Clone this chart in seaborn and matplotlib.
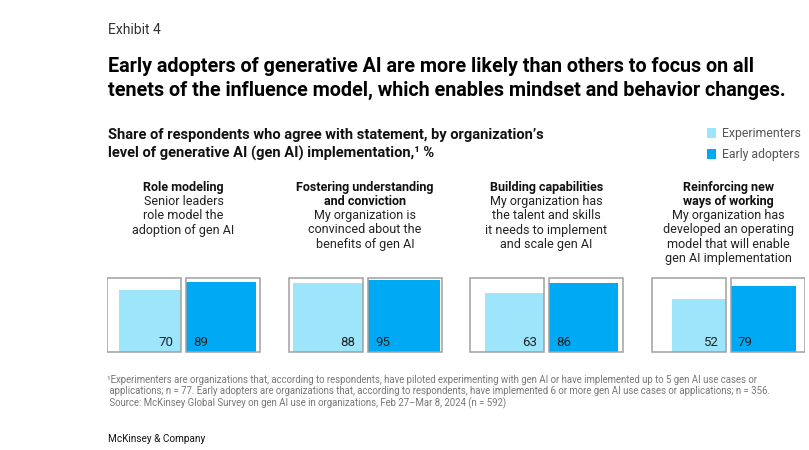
import matplotlib
matplotlib.use("Agg")
import matplotlib.pyplot as plt
import seaborn as sns
import numpy as np

# data
tenets = ["Role modeling", "Fostering understanding\nand conviction",
          "Building capabilities", "Reinforcing new\nways of working"]
statements = ["Senior leaders\nrole model the\nadoption of gen AI",
              "My organization is\nconvinced about the\nbenefits of gen AI",
              "My organization has\nthe talent and skills\nit needs to implement\nand scale gen AI",
              "My organization has\ndeveloped an operating\nmodel that will enable\ngen AI implementation"]
experimenters = [70, 88, 63, 52]
early_adopters = [89, 95, 86, 79]

LIGHT = "#9DE5FB"
DARK = "#00A9F4"
OUTLINE = "#a0a0a0"
W, H = 809, 450

sns.set_theme(style="white")
plt.rcParams["font.family"] = ["Roboto", "DejaVu Sans"]

fig = plt.figure(figsize=(W / 100, H / 100), dpi=100)


def px(x, y):
    return x / W, 1 - y / H


# panel geometry in pixels
box = 74.0
gap = 5.0 / box
step = 181.5 / box
left_px, bottom_px = 107, 352
n_units = 9.43
ax = fig.add_axes([left_px / W, (H - bottom_px - 1) / H, n_units * box / W, (box + 2) / H])
ax.set_xlim(0, n_units)
ax.set_ylim(-1 / box, 1 + 1 / box)
ax.axis("off")

starts = np.arange(len(tenets)) * step
exp_side = np.sqrt(np.array(experimenters) / 100)
ea_side = np.sqrt(np.array(early_adopters) / 100)

b1 = ax.bar(starts + 1, exp_side, width=-exp_side, align="edge", color=LIGHT,
            linewidth=0, label="Experimenters", zorder=1)
b2 = ax.bar(starts + 1 + gap, ea_side, width=ea_side, align="edge", color=DARK,
            linewidth=0, label="Early adopters", zorder=1)
# outline boxes
ax.bar(starts, 1, width=1, align="edge", fill=False, edgecolor=OUTLINE, linewidth=1.1, zorder=2)
ax.bar(starts + 1 + gap, 1, width=1, align="edge", fill=False, edgecolor=OUTLINE, linewidth=1.1, zorder=2)

for s, e, a in zip(starts, experimenters, early_adopters):
    ax.text(s + 1 - 0.095, 0.13, str(e), ha="right", va="center", fontsize=9.5, color="#222222", zorder=3)
    ax.text(s + 1 + gap + 0.1, 0.13, str(a), ha="left", va="center", fontsize=9.5, color="#222222", zorder=3)

# column headers
for i, (t, st) in enumerate(zip(tenets, statements)):
    cx = left_px + (starts[i] + 1 + gap / 2) * box
    nl = t.count("\n") + 1
    fig.text(*px(cx, 181), t, ha="center", va="top", fontsize=9, fontweight="bold",
             color="#111111", linespacing=1.13)
    fig.text(*px(cx, 181 + 14 * nl), st, ha="center", va="top", fontsize=9,
             color="#222222", linespacing=1.13)

# titles
fig.text(*px(108, 30), "Exhibit 4", ha="left", va="center", fontsize=10, color="#333333")
fig.text(*px(108, 57), "Early adopters of generative AI are more likely than others to focus on all\n"
         "tenets of the influence model, which enables mindset and behavior changes.",
         ha="left", va="top", fontsize=14.2, fontweight="bold", color="#000000", linespacing=1.33)
fig.text(*px(108, 128), "Share of respondents who agree with statement, by organization\u2019s\n"
         "level of generative AI (gen AI) implementation,\u00b9 %",
         ha="left", va="top", fontsize=10.5, fontweight="bold", color="#111111", linespacing=1.35)

# legend
fig.legend(handles=[b1, b2], labels=["Experimenters", "Early adopters"], loc="upper left",
           bbox_to_anchor=px(696, 116), frameon=False, fontsize=8.8, handlelength=0.75,
           handleheight=0.9, handletextpad=0.5, labelspacing=0.65, labelcolor="#555555")

# footnotes
fig.text(*px(107, 375),
         "\u00b9Experimenters are organizations that, according to respondents, have piloted experimenting with gen AI or have implemented up to 5 gen AI use cases or\n"
         " applications; n = 77. Early adopters are organizations that, according to respondents, have implemented 6 or more gen AI use cases or applications; n = 356.\n"
         " Source: McKinsey Global Survey on gen AI use in organizations, Feb 27\u2013Mar 8, 2024 (n = 592)",
         ha="left", va="top", fontsize=6.9, color="#777777", linespacing=1.15)
fig.text(*px(108, 439), "McKinsey & Company", ha="left", va="center", fontsize=7.2, color="#111111")

fig.savefig("out.png", dpi=100, facecolor="white")
